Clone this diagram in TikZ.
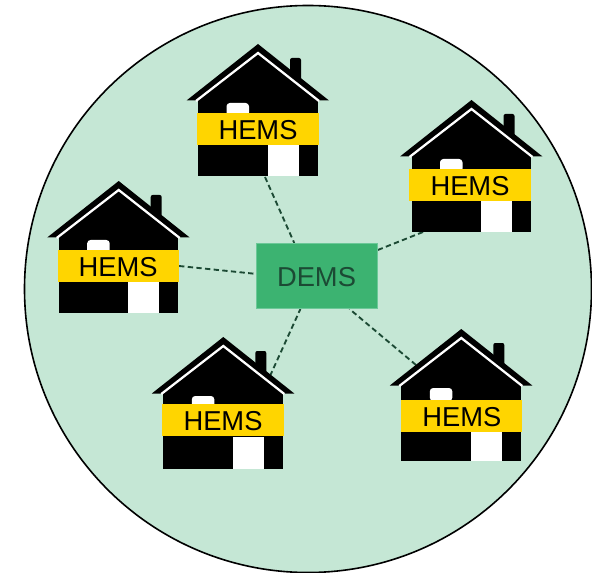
\documentclass[tikz,border=0pt]{standalone}
\usepackage{fontspec}
\setmainfont{Liberation Sans}
\usepackage{tikz}
\usetikzlibrary{backgrounds}
\definecolor{areagreen}{HTML}{C5E7D5}
\definecolor{demsgreen}{HTML}{3CB371}
\definecolor{demsedge}{HTML}{6CC898}
\definecolor{linkgreen}{HTML}{1C4A34}
\definecolor{bandyellow}{HTML}{FFD500}
\tikzset{
  hemsband/.style={fill=bandyellow, minimum width=91pt, minimum height=24pt, inner sep=0pt, text height=16pt, text depth=0pt, font=\fontsize{20.5}{20.5}\selectfont},
  demsbox/.style={fill=demsgreen, draw=demsedge, line width=0.5pt, minimum width=90.5pt, minimum height=49pt, inner sep=0pt, text height=15.5pt, text depth=0pt, text=linkgreen, font=\fontsize{20.5}{20.5}\selectfont},
  link/.style={draw=linkgreen, line width=1.4pt, dash pattern=on 4pt off 2.5pt},
  pics/house/.style 2 args={code={
    \fill[black] (0, 0) -- (71, 56.5) -- (-71.5, 56.5) -- cycle;
    \fill[black, rounded corners=1.5pt] (32, 14) -- (43, 14) -- (43, 45) -- (32, 45) -- cycle;
    \fill[black] (-60, 56) rectangle (59.5, 132);
    \draw[white, line width=1.7pt] (-62, 57) -- (0, 9) -- (61, 57);
    \fill[white, rounded corners=2.5pt] (-31.5, 59) -- (-9, 59) -- (-9, 72) -- (-31.5, 72) -- cycle;
    \fill[white] (9.5, 100) rectangle (40.5, 132);
    \node[hemsband] (-band) at (#1, #2) {HEMS};
  }}
}
\begin{document}
\begin{tikzpicture}[x=0.75pt, y=-0.75pt]
  \useasboundingbox (0, 0) rectangle (592, 573);
  % houses around the box
  \pic (hemsA) at (258, 44) {house={0}{85}};
  \pic (hemsB) at (471.5, 100) {house={-1.5}{85}};
  \pic (hemsC) at (118.7, 181) {house={-0.5}{85}};
  \pic (hemsD) at (223.3, 337) {house={-0.3}{83}};
  \pic (hemsE) at (461.3, 329) {house={0.5}{86.8}};
  \node[demsbox] (dems) at (316.5, 276) {DEMS};
  \coordinate (endA) at (265, 177);
  \coordinate (endB) at (423, 232);
  \coordinate (endD) at (270, 376);
  \coordinate (endE) at (416, 365);
  \begin{scope}[on background layer]
    \draw[fill=areagreen, line width=1.2pt] (308, 289) circle (283.5);
    \draw[link] (endA) -- (dems.124);
    \draw[link] (endB) -- (dems.23);
    \draw[link] (hemsC-band.east) -- (dems.178);
    \draw[link] (endD) -- (dems.-116);
    \draw[link] (endE) -- (dems.-45);
  \end{scope}
\end{tikzpicture}
\end{document}
